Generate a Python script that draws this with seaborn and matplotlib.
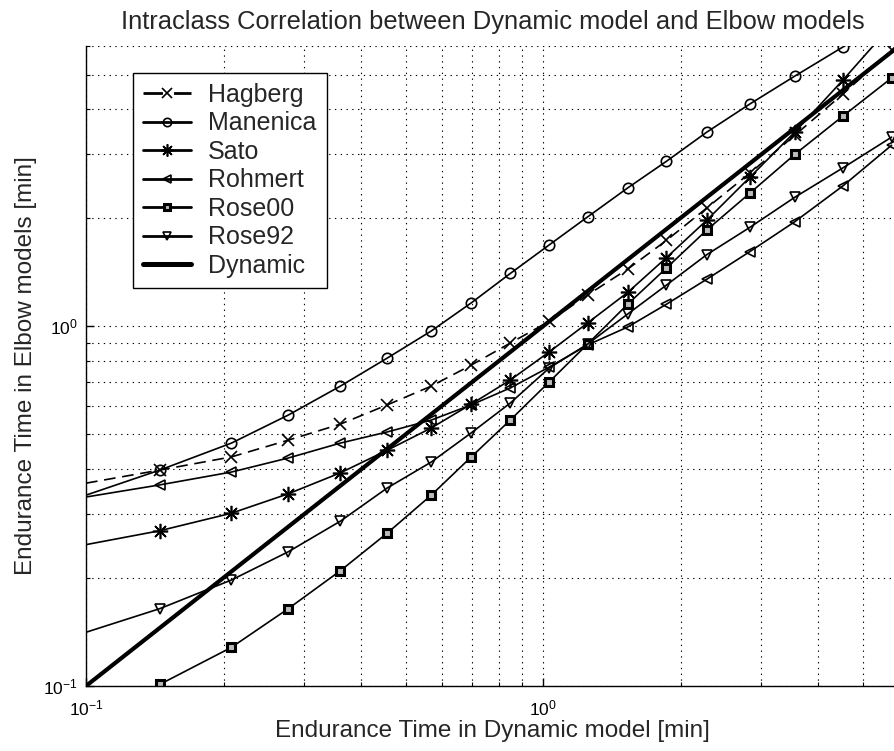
import matplotlib
matplotlib.use("Agg")
import matplotlib.pyplot as plt
import matplotlib.ticker as mticker
import seaborn as sns
import pandas as pd

# endurance time in the dynamic model [min], shared by all elbow models
x_dyn = [0.145, 0.208, 0.277, 0.360, 0.456, 0.569, 0.696, 0.847, 1.03,
         1.25, 1.53, 1.86, 2.28, 2.83, 3.55, 4.52, 5.78]
# the curves run in from the left edge of the axes (x = 0.1)
x_edge = [0.1] + x_dyn

hagberg = [0.366, 0.398, 0.433, 0.482, 0.534, 0.604, 0.681, 0.779, 0.897,
           1.03, 1.22, 1.44, 1.73, 2.13, 2.66, 3.39, 4.41, 5.84]
manenica = [0.339, 0.398, 0.473, 0.566, 0.681, 0.815, 0.969, 1.16, 1.40,
            1.68, 2.01, 2.42, 2.87, 3.46, 4.14, 4.95, 5.96, 7.17]
sato = [0.247, 0.270, 0.302, 0.342, 0.391, 0.452, 0.521, 0.607, 0.708,
        0.847, 1.02, 1.24, 1.55, 1.97, 2.59, 3.46, 4.82, 6.86]
rohmert = [0.335, 0.362, 0.393, 0.430, 0.473, 0.508, 0.548, 0.604, 0.673,
           0.769, 0.886, 0.994, 1.15, 1.35, 1.61, 1.95, 2.45, 3.18]
rose92 = [0.141, 0.164, 0.197, 0.236, 0.287, 0.355, 0.419, 0.505, 0.611,
          0.764, 0.891, 1.08, 1.30, 1.58, 1.88, 2.28, 2.75, 3.35]
# Rose00 starts on the bottom edge
rose00 = [0.101, 0.128, 0.164, 0.209, 0.266, 0.339, 0.433, 0.548, 0.699,
          0.891, 1.15, 1.45, 1.85, 2.34, 3.00, 3.83, 4.89]
# the dynamic model against itself
dynamic_x = [0.1, 6.0]
dynamic_y = [0.1, 6.0]

sns.set_style("ticks")
plt.rcParams['font.family'] = ['Liberation Sans', 'DejaVu Sans']
plt.rcParams['mathtext.fontset'] = 'custom'
plt.rcParams['mathtext.rm'] = 'Liberation Sans'
plt.rcParams['mathtext.it'] = 'Liberation Sans:italic'

fig = plt.figure(figsize=(8.94, 7.51), dpi=100)
ax = fig.add_axes([0.0962, 0.0866, 0.9094, 0.8521])
ax.set_xscale('log')
ax.set_yscale('log')

thin = dict(color='black', linewidth=1.2, markeredgecolor='black',
            markeredgewidth=1.2, clip_on=True)

sns.lineplot(x=x_edge, y=hagberg, ax=ax, label='Hagberg', marker='x',
             markersize=9, dashes=(7, 4), markevery=slice(1, None), **thin)
sns.lineplot(x=x_edge, y=manenica, ax=ax, label='Manenica', marker='o',
             markersize=7.5, markerfacecolor='none',
             markevery=slice(1, None), **thin)
sns.lineplot(x=x_edge, y=sato, ax=ax, label='Sato', marker=(8, 2, 0),
             markersize=11, markevery=slice(1, None), **thin)
sns.lineplot(x=x_edge, y=rohmert, ax=ax, label='Rohmert', marker='<',
             markersize=7.5, markerfacecolor='none',
             markevery=slice(1, None), **thin)
sns.lineplot(x=x_dyn, y=rose00, ax=ax, label='Rose00', marker='s',
             markersize=5.2, markerfacecolor='#bbbbbb',
             **{**thin, 'markeredgewidth': 2.2})
sns.lineplot(x=x_edge, y=rose92, ax=ax, label='Rose92', marker='v',
             markersize=7.5, markerfacecolor='none',
             markevery=slice(1, None), **thin)
sns.lineplot(x=dynamic_x, y=dynamic_y, ax=ax, label='Dynamic',
             color='black', linewidth=3)

ax.set_xlim(0.1, 6.0)
ax.set_ylim(0.1, 6.0)

# matlab style: dotted grid on every decade step, ticks inside
ax.xaxis.set_minor_formatter(mticker.NullFormatter())
ax.yaxis.set_minor_formatter(mticker.NullFormatter())
ax.grid(which='both', color='black', linewidth=0.8, linestyle=(0, (1.2, 4)))
ax.tick_params(which='both', direction='in', top=False, right=False,
               labelsize=12.5, colors='black')
ax.tick_params(which='major', length=6, width=1)
ax.tick_params(which='minor', length=3, width=0.8)
ax.tick_params(axis='x', which='major', pad=9)
ax.tick_params(axis='y', which='major', pad=6)
for side in ['top', 'right']:
    ax.spines[side].set_visible(False)
for side in ['left', 'bottom']:
    ax.spines[side].set_color('black')
    ax.spines[side].set_linewidth(1)

ax.set_title('Intraclass Correlation between Dynamic model and Elbow models',
             fontsize=18.4, pad=12)
ax.set_xlabel('Endurance Time in Dynamic model [min]', fontsize=17.5,
              labelpad=1)
ax.set_ylabel('Endurance Time in Elbow models [min]', fontsize=17.5,
              labelpad=4)

leg = ax.legend(loc='upper left', bbox_to_anchor=(0.058, 0.958),
                borderaxespad=0, fontsize=18, fancybox=False, framealpha=1,
                edgecolor='black', handlelength=1.9, handletextpad=0.7,
                labelspacing=0.18, borderpad=0.4)
leg.get_frame().set_linewidth(1)
# legend keys are drawn with heavier lines and small markers
for handle in leg.legend_handles:
    handle.set_linewidth(3.6 if handle.get_linewidth() >= 3 else 2.0)
    handle.set_markersize(handle.get_markersize() * 0.8)

fig.savefig('out.png', dpi=100)
